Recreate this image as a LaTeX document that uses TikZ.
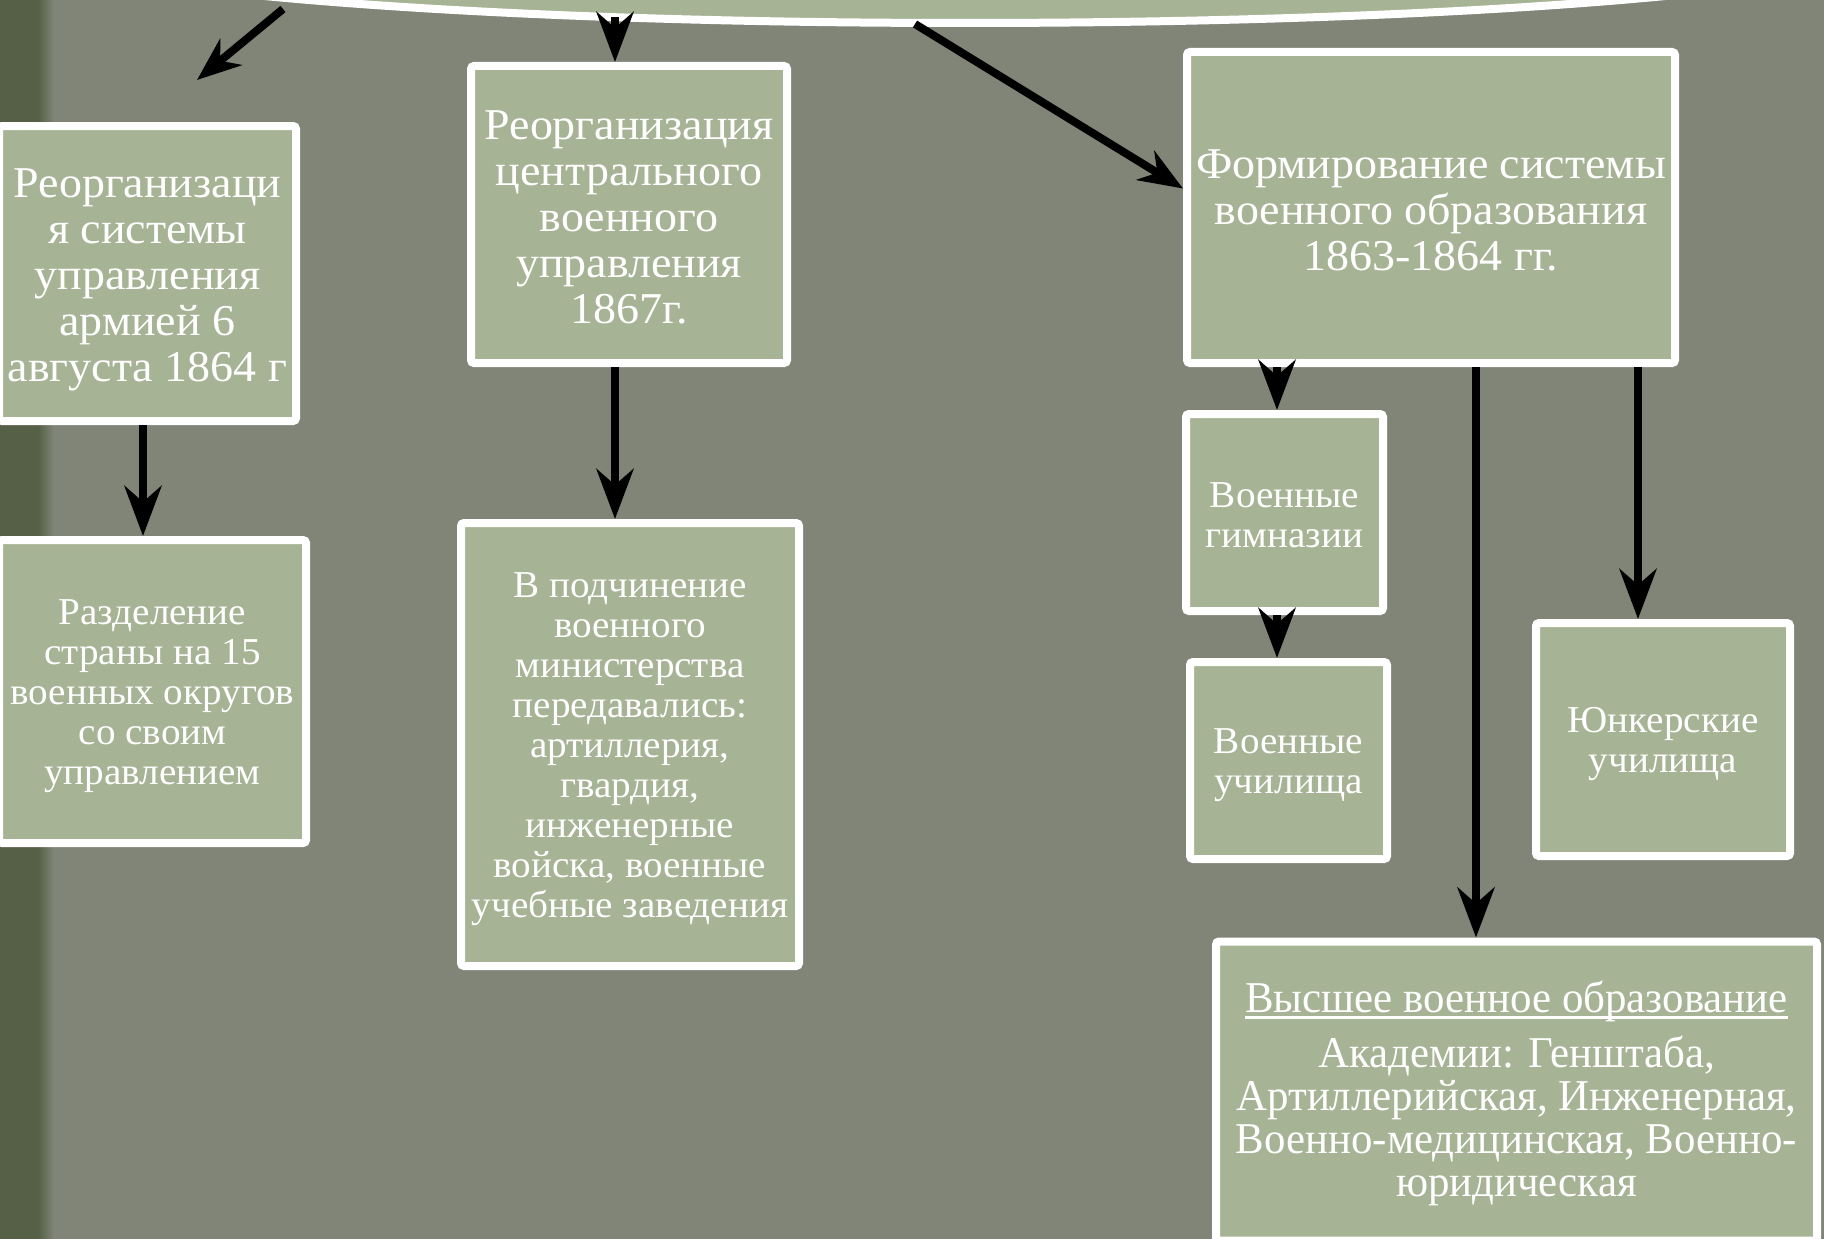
\documentclass[tikz,border=0pt]{standalone}
\usepackage{fontspec}
\setmainfont{Liberation Serif}
\newfontfamily\bigf{Liberation Serif}[FakeStretch=1.045]
\newfontfamily\smallf{Liberation Serif}[FakeStretch=1.03]
\newfontfamily\condf{Liberation Serif}[FakeStretch=0.975]
\usetikzlibrary{shapes.geometric,arrows.meta,shadows}
\definecolor{bgc}{RGB}{128,133,119}
\definecolor{boxc}{RGB}{166,179,148}
\definecolor{darkc}{RGB}{86,96,70}
\newcommand\myul[1]{\setbox0\hbox{#1}\rlap{\raisebox{-7pt}{\rule{\wd0}{2.6pt}}}\box0}
\begin{document}
\begin{tikzpicture}[x=1pt,y=-1pt,
  box/.style={draw=white, line width=8pt, fill=boxc, rounded corners=3pt, inner sep=0pt,
    drop shadow={shadow xshift=2pt,shadow yshift=-3pt,opacity=.25}},
  txt/.style={align=center, text=white, inner sep=0pt},
  bigt/.style={txt, font=\bigf\fontsize{44}{46}\selectfont},
  smallt/.style={txt, font=\smallf\fontsize{38}{40}\selectfont},
  condt/.style={txt, font=\condf\fontsize{44}{43}\selectfont},
  arr/.style={line width=8pt, draw=black, -{Stealth[length=50pt,width=37pt,inset=16pt]}},
  arrs/.style={line width=8pt, draw=black, -{Stealth[length=44pt,width=34pt,inset=14pt]}},
]
\useasboundingbox (0,0) rectangle (1824,1239);
\clip (0,0) rectangle (1824,1239);
% background
\fill[bgc] (0,0) rectangle (1824,1239);
\fill[darkc] (0,0) rectangle (38,1239);
\shade[left color=darkc, right color=bgc] (38,0) rectangle (54,1239);

% top ellipse
\node[ellipse, draw=white, line width=8pt, fill=boxc, minimum width=1880pt, minimum height=162pt, inner sep=0pt] (top) at (965,-58) {};

% boxes
\node[box,minimum width=297pt,minimum height=295pt,
  label={[name=B1t,bigt,yshift=-6pt]center:{Реорганизаци\\я системы\\управления\\армией 6\\августа 1864 г}}] (B1) at (147.5,273.5) {};
\node[box,minimum width=307pt,minimum height=303pt,
  label={[name=B2t,smallt,yshift=-5pt]center:{Разделение\\страны на 15\\военных округов\\со своим\\управлением}}] (B2) at (152.5,691.5) {};
\node[box,minimum width=316pt,minimum height=297pt,
  label={[name=B3t,bigt,yshift=-3pt]center:{Реорганизация\\центрального\\военного\\управления\\1867г.}}] (B3) at (629,214.5) {};
\node[box,minimum width=338pt,minimum height=443pt,
  label={[name=B4t,smallt,yshift=-5pt]center:{В подчинение\\военного\\министерства\\передавались:\\артиллерия,\\гвардия,\\инженерные\\войска, военные\\учебные заведения}}] (B4) at (630,744.5) {};
\node[box,minimum width=488pt,minimum height=311pt,
  label={[name=B5t,bigt,yshift=-3pt]center:{Формирование системы\\военного образования\\1863-1864 гг.}}] (B5) at (1431,207.5) {};
\node[box,minimum width=197pt,minimum height=197pt,
  label={[name=B6t,smallt,yshift=-3pt]center:{Военные\\гимназии}}] (B6) at (1284.5,512.5) {};
\node[box,minimum width=197pt,minimum height=197pt,
  label={[name=B7t,smallt,yshift=-5pt]center:{Военные\\училища}}] (B7) at (1288.5,760.5) {};
\node[box,minimum width=254pt,minimum height=233pt,
  label={[name=B8t,smallt,yshift=-5pt]center:{Юнкерские\\училища}}] (B8) at (1663,739.5) {};
\node[box,minimum width=601pt,minimum height=299pt,
  label={[name=B9t,condt,yshift=-2pt]center:{\myul{Высшее военное образование}\\[12pt]Академии: Генштаба,\\Артиллерийская, Инженерная,\\Военно-медицинская, Военно-\\юридическая}}] (B9) at (1516.5,1091) {};

% connector anchors
\coordinate (s1) at (283,9);
\coordinate (e1) at (197,80);
\coordinate (s2) at (615,17);
\coordinate (s4) at (915,24);
\coordinate (x1) at (143,0);
\coordinate (x3) at (615,0);
\coordinate (x6) at (1277,0);
\coordinate (x9) at (1476,0);
\coordinate (x8) at (1638,0);

% connectors
\draw[arrs] (s1) -- (e1);
\draw[arr] (s2) -- (B3.north -| x3);
\draw[arr] (B3.south -| x3) -- (B4.north -| x3);
\draw[arrs] (s4) -- ([yshift=19pt]B5.west);
\draw[arr] (B1.south -| x1) -- (B2.north -| x1);
\draw[arr] (B5.south -| x6) -- (B6.north -| x6);
\draw[arr] (B6.south -| x6) -- (B7.north -| x6);
\draw[arr] (B5.south -| x9) -- (B9.north -| x9);
\draw[arr] (B5.south -| x8) -- (B8.north -| x8);
\end{tikzpicture}
\end{document}
